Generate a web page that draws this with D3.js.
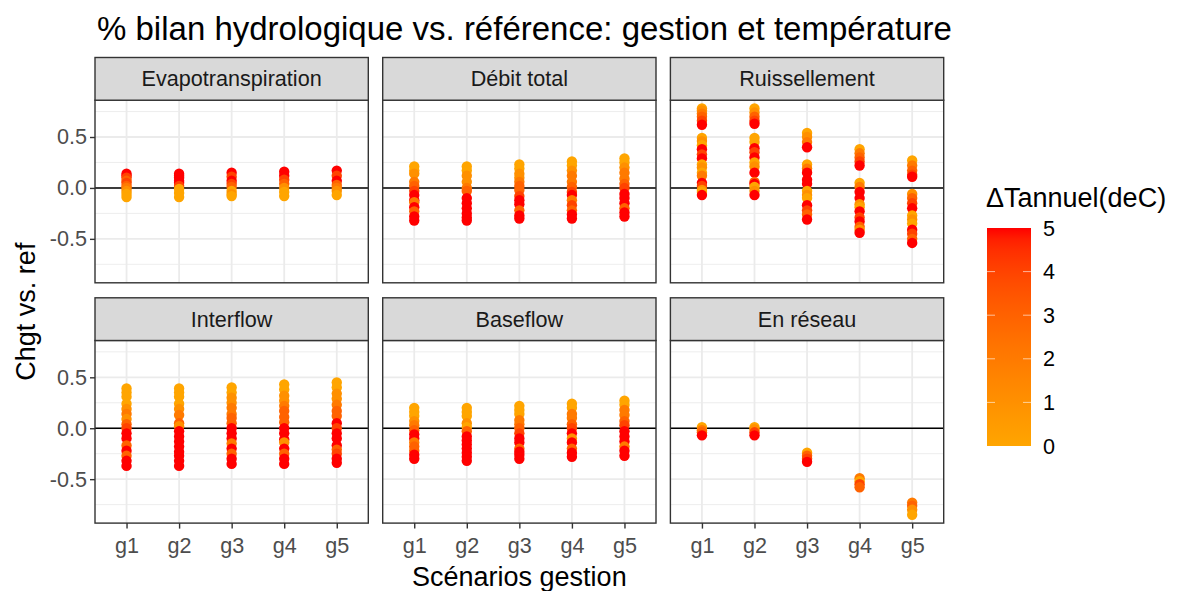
<!DOCTYPE html>
<html>
<head>
<meta charset="utf-8">
<script src="https://cdn.jsdelivr.net/npm/d3@7"></script>
<style>
  html, body { margin: 0; padding: 0; background: #fff; }
  svg { display: block; font-family: "Liberation Sans", Arial, sans-serif; }
</style>
</head>
<body>
<svg id="chart" width="1192" height="591"></svg>
<script>
// Facets, scenario groups and tick values
const panels = ["Evapotranspiration", "Débit total", "Ruissellement", "Interflow", "Baseflow", "En réseau"];
const groups = ["g1", "g2", "g3", "g4", "g5"];
const yTicks = [-0.5, 0, 0.5];
const yMinorTicks = [-0.75, -0.25, 0.25, 0.75];
const dTTicks = [0, 1, 2, 3, 4, 5];

// Each facet: one list per scenario of [change vs. ref, ΔT annual (°C)]
const evapotranspiration = [
  [[0.14,5],[0.12,5],[0.10,4],[0.07,3],[0.05,4],[0.02,3],[0.00,2],[-0.03,1],[-0.06,0],[-0.09,0]],
  [[0.14,5],[0.12,5],[0.10,5],[0.07,5],[0.05,5],[0.02,4],[-0.01,0],[-0.05,0],[-0.09,0]],
  [[0.15,5],[0.11,4],[0.07,5],[0.04,4],[0.01,3],[-0.03,0],[-0.06,1],[-0.08,0]],
  [[0.16,5],[0.12,5],[0.08,4],[0.04,3],[0.00,1],[-0.04,0],[-0.08,0]],
  [[0.17,5],[0.12,4],[0.07,5],[0.03,3],[0.00,2],[-0.03,1],[-0.07,0]]
];
const debitTotal = [
  [[0.21,0],[0.17,0],[0.14,1],[0.06,2],[0.02,3],[-0.03,4],[-0.07,5],[-0.12,5],[-0.14,2],[-0.19,5],[-0.23,3],[-0.28,5],[-0.32,5]],
  [[0.21,0],[0.17,0],[0.12,1],[0.06,1],[0.00,2],[-0.03,3],[-0.10,5],[-0.15,5],[-0.20,5],[-0.25,5],[-0.29,5],[-0.32,5]],
  [[0.23,0],[0.19,0],[0.14,1],[0.10,1],[0.06,2],[0.02,3],[-0.02,3],[-0.08,4],[-0.12,5],[-0.16,5],[-0.22,3],[-0.27,5],[-0.30,5]],
  [[0.26,0],[0.22,0],[0.17,1],[0.12,2],[0.06,2],[0.01,3],[-0.04,4],[-0.07,5],[-0.12,2],[-0.17,4],[-0.22,3],[-0.26,5],[-0.30,5]],
  [[0.29,0],[0.25,0],[0.20,1],[0.15,2],[0.09,2],[0.04,3],[0.00,4],[-0.06,5],[-0.10,5],[-0.15,5],[-0.20,3],[-0.24,5],[-0.28,5]]
];
const ruissellement = [
  [[0.78,0],[0.76,1],[0.73,2],[0.70,3],[0.66,4],[0.62,5],[0.49,0],[0.46,1],[0.42,0],[0.38,5],[0.33,4],[0.29,5],[0.23,0],[0.20,1],[0.15,0],[0.12,2],[0.05,5],[0.02,4],[-0.02,1],[-0.04,0],[-0.07,5]],
  [[0.78,0],[0.74,1],[0.70,3],[0.66,4],[0.63,5],[0.49,0],[0.45,0],[0.39,5],[0.35,4],[0.30,5],[0.25,0],[0.21,1],[0.15,5],[0.06,3],[0.04,5],[0.01,0],[-0.03,1],[-0.07,5]],
  [[0.54,0],[0.50,1],[0.45,2],[0.40,5],[0.23,0],[0.19,2],[0.15,5],[0.08,5],[0.04,5],[-0.03,0],[-0.07,1],[-0.10,0],[-0.17,5],[-0.22,4],[-0.26,3],[-0.31,5]],
  [[0.38,0],[0.34,2],[0.30,3],[0.26,4],[0.22,5],[0.05,0],[0.01,2],[-0.04,5],[-0.10,5],[-0.16,1],[-0.19,0],[-0.23,5],[-0.29,4],[-0.33,5],[-0.38,3],[-0.41,1],[-0.44,5]],
  [[0.27,0],[0.22,2],[0.17,3],[0.13,4],[0.11,5],[-0.06,1],[-0.10,3],[-0.15,4],[-0.20,5],[-0.27,0],[-0.31,1],[-0.35,0],[-0.41,5],[-0.45,4],[-0.50,3],[-0.54,5]]
];
const interflow = [
  [[0.39,0],[0.35,0],[0.31,0],[0.24,0],[0.19,1],[0.14,2],[0.09,1],[0.04,3],[0.00,4],[-0.05,5],[-0.10,5],[-0.17,3],[-0.22,5],[-0.27,3],[-0.32,5],[-0.37,5]],
  [[0.39,0],[0.35,0],[0.31,0],[0.24,0],[0.19,1],[0.13,2],[0.05,3],[0.02,1],[-0.03,5],[-0.08,5],[-0.13,5],[-0.18,5],[-0.23,5],[-0.27,5],[-0.32,5],[-0.37,5]],
  [[0.40,0],[0.35,0],[0.30,1],[0.25,1],[0.20,2],[0.14,2],[0.10,3],[0.05,3],[0.00,5],[-0.05,5],[-0.10,5],[-0.15,2],[-0.20,5],[-0.25,3],[-0.30,5],[-0.35,5]],
  [[0.43,0],[0.38,0],[0.32,1],[0.27,1],[0.22,2],[0.17,3],[0.11,3],[0.06,3],[0.00,5],[-0.05,5],[-0.11,5],[-0.14,1],[-0.20,5],[-0.25,3],[-0.30,5],[-0.35,5]],
  [[0.45,0],[0.40,0],[0.34,1],[0.29,1],[0.23,2],[0.17,3],[0.12,3],[0.05,5],[0.00,4],[-0.05,5],[-0.10,5],[-0.17,5],[-0.21,3],[-0.25,4],[-0.30,5],[-0.34,5]]
];
const baseflow = [
  [[0.20,0],[0.16,0],[0.12,0],[0.07,1],[0.03,2],[-0.02,3],[-0.06,5],[-0.10,5],[-0.14,2],[-0.18,3],[-0.22,3],[-0.26,5],[-0.30,5]],
  [[0.20,0],[0.16,0],[0.12,0],[0.05,1],[0.01,0],[-0.03,3],[-0.08,5],[-0.12,5],[-0.16,5],[-0.20,5],[-0.24,5],[-0.28,5],[-0.32,5]],
  [[0.22,0],[0.18,0],[0.14,0],[0.08,2],[0.04,2],[0.00,3],[-0.05,4],[-0.10,5],[-0.14,5],[-0.20,3],[-0.23,5],[-0.26,5],[-0.30,5]],
  [[0.24,0],[0.20,0],[0.14,2],[0.10,2],[0.04,3],[0.00,4],[-0.05,5],[-0.10,1],[-0.14,5],[-0.20,3],[-0.24,5],[-0.28,5]],
  [[0.27,0],[0.23,0],[0.18,2],[0.13,2],[0.07,3],[0.03,4],[-0.03,5],[-0.08,5],[-0.13,5],[-0.18,2],[-0.22,5],[-0.27,5]]
];
const enReseau = [
  [[0.01,0],[-0.02,2],[-0.04,3],[-0.07,5]],
  [[0.01,0],[-0.01,1],[-0.04,4],[-0.07,5]],
  [[-0.24,0],[-0.27,3],[-0.30,4],[-0.33,5]],
  [[-0.49,2],[-0.52,0],[-0.55,4],[-0.58,3]],
  [[-0.73,2],[-0.76,3],[-0.80,1],[-0.85,0]]
];

const facetData = [evapotranspiration, debitTotal, ruissellement, interflow, baseflow, enReseau];

// ---- layout ----
const svg = d3.select("#chart");
const panelW = 273.3, panelH = 182.6, stripH = 42.7;
const colGap = 14.4, rowGap = 15;
const left0 = 95, stripTop0 = 57.5;
const smallFont = 21.6, axisTitleFont = 27, titleFont = 33;

const colLeft = c => left0 + c * (panelW + colGap);
const stripTop = r => stripTop0 + r * (stripH + panelH + rowGap);
const panelTop = r => stripTop(r) + stripH;

// shared scales
const allValues = facetData.flatMap(f => f.flatMap(g => g.map(p => p[0])));
const [vMin, vMax] = d3.extent(allValues);
const pad = (vMax - vMin) * 0.05;
const yScale = d3.scaleLinear().domain([vMin - pad, vMax + pad]).range([panelH, 0]);
const xScale = d3.scalePoint().domain(groups).range([0, panelW]).padding(0.6);
const colour = d3.scaleLinear().domain([0, 5]).range(["orange", "red"]).interpolate(d3.interpolateLab).clamp(true);

// title
svg.append("text")
  .attr("x", 97).attr("y", 40)
  .attr("font-size", titleFont).attr("fill", "#000")
  .text("% bilan hydrologique vs. référence: gestion et température");

panels.forEach((name, i) => {
  const r = Math.floor(i / 3), c = i % 3;
  const g = svg.append("g").attr("transform", `translate(${colLeft(c)},${panelTop(r)})`);

  // background grid
  g.selectAll(".minor").data(yMinorTicks.filter(t => yScale(t) > 0 && yScale(t) < panelH)).join("line")
    .attr("x1", 0).attr("x2", panelW)
    .attr("y1", d => yScale(d)).attr("y2", d => yScale(d))
    .attr("stroke", "#ebebeb").attr("stroke-width", 0.9);
  g.selectAll(".major").data(yTicks).join("line")
    .attr("x1", 0).attr("x2", panelW)
    .attr("y1", d => yScale(d)).attr("y2", d => yScale(d))
    .attr("stroke", "#ebebeb").attr("stroke-width", 1.8);
  g.selectAll(".vmajor").data(groups).join("line")
    .attr("x1", d => xScale(d)).attr("x2", d => xScale(d))
    .attr("y1", 0).attr("y2", panelH)
    .attr("stroke", "#ebebeb").attr("stroke-width", 1.8);

  // reference line at zero
  g.append("line")
    .attr("x1", 0).attr("x2", panelW)
    .attr("y1", yScale(0)).attr("y2", yScale(0))
    .attr("stroke", "#000").attr("stroke-width", 1.6);

  // points
  const pts = facetData[i].flatMap((col, gi) => col.map(p => ({ g: groups[gi], v: p[0], t: p[1] })));
  g.selectAll("circle").data(pts).join("circle")
    .attr("cx", d => xScale(d.g))
    .attr("cy", d => yScale(d.v))
    .attr("r", 5.2)
    .attr("fill", d => colour(d.t));

  // panel border
  g.append("rect")
    .attr("x", 0).attr("y", 0).attr("width", panelW).attr("height", panelH)
    .attr("fill", "none").attr("stroke", "#333").attr("stroke-width", 1.4);

  // strip
  const s = svg.append("g").attr("transform", `translate(${colLeft(c)},${stripTop(r)})`);
  s.append("rect")
    .attr("x", 0).attr("y", 0).attr("width", panelW).attr("height", stripH)
    .attr("fill", "#d9d9d9").attr("stroke", "#333").attr("stroke-width", 1.4);
  s.append("text")
    .attr("x", panelW / 2).attr("y", stripH / 2 + 7.5)
    .attr("text-anchor", "middle").attr("font-size", smallFont).attr("fill", "#1a1a1a")
    .text(name);

  // y axis on left column
  if (c === 0) {
    const ax = g.append("g").call(d3.axisLeft(yScale).tickValues(yTicks).tickSize(5).tickPadding(3));
    ax.select(".domain").remove();
    ax.selectAll(".tick line").attr("stroke", "#333").attr("stroke-width", 1.4);
    ax.selectAll(".tick text").attr("font-size", smallFont).attr("fill", "#4d4d4d")
      .attr("font-family", "Liberation Sans, Arial, sans-serif")
      .text(d => d3.format(".1f")(d).replace("−", "-"));
  }
  // x axis on bottom row
  if (r === 1) {
    const ax = g.append("g").attr("transform", `translate(0,${panelH})`)
      .call(d3.axisBottom(xScale).tickSize(5.5).tickPadding(9));
    ax.select(".domain").remove();
    ax.selectAll(".tick line").attr("stroke", "#333").attr("stroke-width", 1.4);
    ax.selectAll(".tick text").attr("font-size", smallFont).attr("fill", "#4d4d4d")
      .attr("font-family", "Liberation Sans, Arial, sans-serif");
  }
});

// axis titles
svg.append("text")
  .attr("x", colLeft(0) + (3 * panelW + 2 * colGap) / 2).attr("y", 586)
  .attr("text-anchor", "middle").attr("font-size", axisTitleFont).attr("fill", "#000")
  .text("Scénarios gestion");
svg.append("text")
  .attr("transform", `translate(35,${(panelTop(0) + panelTop(1) + panelH) / 2}) rotate(-90)`)
  .attr("text-anchor", "middle").attr("font-size", axisTitleFont).attr("fill", "#000")
  .text("Chgt vs. ref");

// colour bar legend
const barX = 987, barW = 44, barTop = 228, barBottom = 446;
const legY = d3.scaleLinear().domain([0, 5]).range([barBottom, barTop]);
const defs = svg.append("defs");
const grad = defs.append("linearGradient").attr("id", "dtGrad")
  .attr("x1", 0).attr("y1", 1).attr("x2", 0).attr("y2", 0);
d3.range(0, 5.01, 0.25).forEach(v => {
  grad.append("stop").attr("offset", v / 5).attr("stop-color", colour(v));
});
svg.append("text")
  .attr("x", 986).attr("y", 207)
  .attr("font-size", axisTitleFont).attr("fill", "#000")
  .text("ΔTannuel(deC)");
svg.append("rect")
  .attr("x", barX).attr("y", barTop).attr("width", barW).attr("height", barBottom - barTop)
  .attr("fill", "url(#dtGrad)");
const legTicks = svg.append("g");
dTTicks.filter(t => t > 0 && t < 5).forEach(t => {
  legTicks.append("line").attr("x1", barX).attr("x2", barX + 8)
    .attr("y1", legY(t)).attr("y2", legY(t)).attr("stroke", "#fff").attr("stroke-opacity", 0.6).attr("stroke-width", 1);
  legTicks.append("line").attr("x1", barX + barW - 8).attr("x2", barX + barW)
    .attr("y1", legY(t)).attr("y2", legY(t)).attr("stroke", "#fff").attr("stroke-opacity", 0.6).attr("stroke-width", 1);
});
svg.append("g").selectAll("text").data(dTTicks).join("text")
  .attr("x", 1043).attr("y", d => legY(d) + 7.5)
  .attr("font-size", smallFont).attr("fill", "#000")
  .text(d => d);
</script>
</body>
</html>
